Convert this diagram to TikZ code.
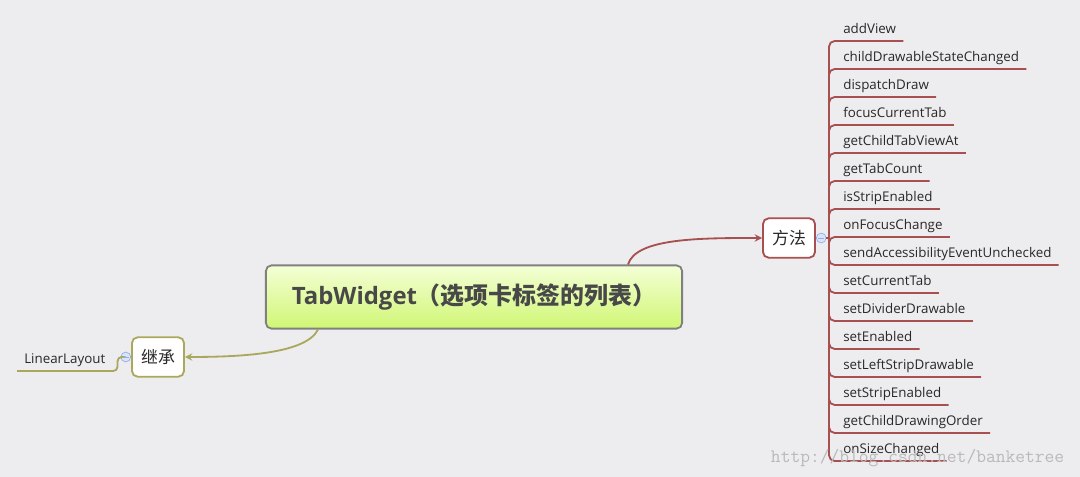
\documentclass[tikz,border=0pt]{standalone}
\usepackage{fontspec}
\setmainfont{Open Sans}
\newfontfamily\cjk{Noto Sans CJK SC}
\usepackage{xcolor}
\usepackage{tikz}
\usetikzlibrary{arrows, calc, positioning}
\definecolor{bgcol}{RGB}{237,237,239}
\definecolor{branchred}{RGB}{168,80,80}
\definecolor{branchgreen}{RGB}{170,168,92}
\definecolor{rootborder}{RGB}{128,128,128}
\definecolor{roottop}{RGB}{244,255,214}
\definecolor{rootbottom}{RGB}{208,246,116}
\definecolor{roottext}{RGB}{72,72,72}
\definecolor{itemtext}{RGB}{40,40,40}
\definecolor{foldfill}{RGB}{216,228,250}
\definecolor{foldedge}{RGB}{150,175,228}
\tikzstyle{root} = [rectangle, rounded corners=4pt, minimum width=296pt, minimum height=45pt, draw=rootborder, line width=1.3pt, top color=roottop, bottom color=rootbottom, text=roottext, font=\fontsize{17}{19}\selectfont\bfseries]
\tikzstyle{topic} = [rectangle, rounded corners=4pt, minimum width=37pt, minimum height=28pt, fill=white, line width=1.3pt, text=itemtext, font=\cjk\fontsize{12}{14}\selectfont]
\tikzstyle{item} = [inner xsep=5pt, inner ysep=3pt, text height=7pt, text depth=2.2pt, text=itemtext, font=\fontsize{9.5}{11}\selectfont]
\tikzstyle{fold} = [circle, minimum size=7pt, inner sep=0pt, draw=foldedge, fill=foldfill, line width=0.5pt, path picture={\draw[foldedge, line width=0.6pt] ([xshift=-2pt]path picture bounding box.center) -- ([xshift=2pt]path picture bounding box.center);}]
\tikzstyle{arrow} = [line width=1.3pt, ->, >=stealth]

\begin{document}
\begin{tikzpicture}[x=0.025cm, y=-0.025cm]

% Background
\fill[bgcol] (0,0) rectangle (1080,477);
\useasboundingbox (0,0) rectangle (1080,477);

% Main topic
\node (main) [root] at (474,297) {TabWidget{\cjk （选项卡标签的列表）}};

% Sub topics
\node (methods) [topic, draw=branchred] at (789,238) {方法};
\node (inherit) [topic, draw=branchgreen] at (158,357) {继承};
\node (fold1) [fold, right=0pt of methods] {};
\node (fold2) [fold, left=0pt of inherit] {};

% Connectors
\draw [arrow, branchred] ($(main.north)+(154,0)$) .. controls (636,238) and (700,238) .. (methods.west);
\draw [arrow, branchgreen] ($(main.south)+(-156,0)$) .. controls (306,354) and (240,357) .. (inherit.east);

% Methods list
\coordinate (trunk) at (829,238);
\draw [line width=1.3pt, branchred] (fold1.east) -- (trunk);
\foreach \name [count=\i from 0] in {addView, childDrawableStateChanged, dispatchDraw, focusCurrentTab, getChildTabViewAt, getTabCount, isStripEnabled, onFocusChange, sendAccessibilityEventUnchecked, setCurrentTab, setDividerDrawable, setEnabled, setLeftStripDrawable, setStripEnabled, getChildDrawingOrder, onSizeChanged} {
  \node (m\i) [item, anchor=south west] at (836,{41+28*\i}) {\name};
  \draw [line width=1.3pt, branchred, rounded corners=4pt] (trunk) |- (m\i.south east);
}

% Parent class
\node (parent) [item, anchor=south west] at (17,371) {LinearLayout};
\draw [line width=1.3pt, branchgreen, rounded corners=3pt] (fold2.west) -- ++(-3,0) |- (parent.south west);

% Watermark
\node (mark) [anchor=west, text=gray!55, font=\ttfamily\fontsize{13.5}{15}\selectfont] at (766,458) {http://blog.csdn.net/banketree};

\end{tikzpicture}
\end{document}
